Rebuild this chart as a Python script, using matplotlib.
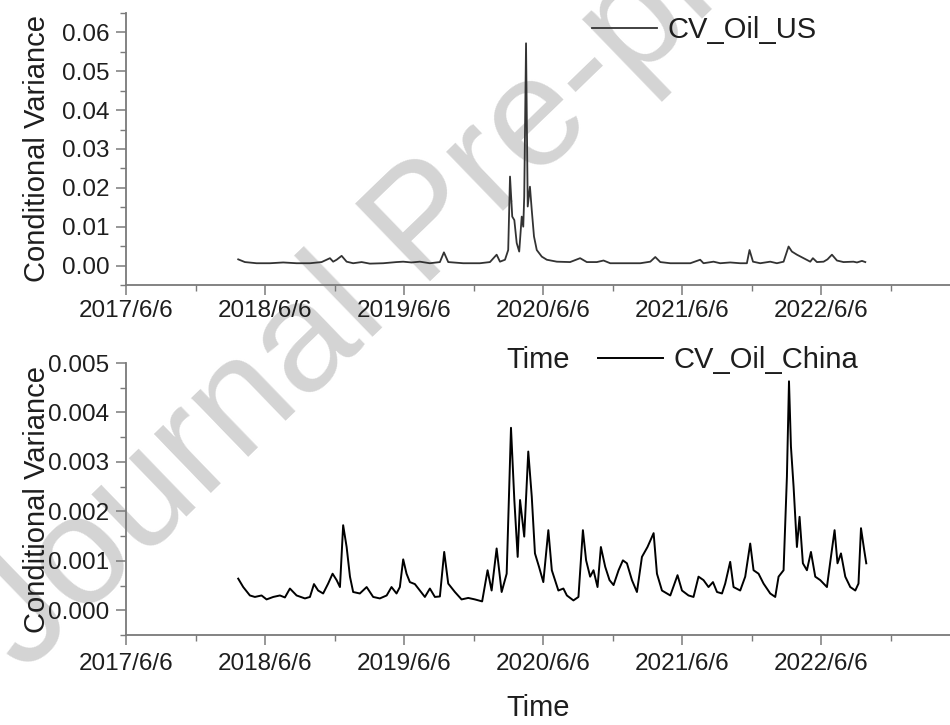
import numpy as np
import pandas as pd
import matplotlib
matplotlib.use("Agg")
import matplotlib.pyplot as plt
import matplotlib.dates as mdates
from matplotlib.ticker import MultipleLocator, FormatStrFormatter, FixedLocator

plt.rcParams['font.family'] = ['Liberation Sans', 'DejaVu Sans']

# ---------------- data (time in decimal years) ----------------
t_us = [2018.235, 2018.283, 2018.367, 2018.463, 2018.559, 2018.655, 2018.751, 2018.835, 2018.895,
        2018.918, 2018.943, 2018.979, 2019.015, 2019.062, 2019.123, 2019.182, 2019.278, 2019.374,
        2019.422, 2019.482, 2019.542, 2019.614, 2019.686, 2019.715, 2019.746, 2019.854, 2019.974,
        2020.046, 2020.094, 2020.118, 2020.154, 2020.177, 2020.190, 2020.206, 2020.221, 2020.238,
        2020.256, 2020.274, 2020.285, 2020.292, 2020.305, 2020.317, 2020.333, 2020.346, 2020.362,
        2020.382, 2020.418, 2020.454, 2020.526, 2020.621, 2020.693, 2020.741, 2020.813, 2020.861,
        2020.909, 2021.005, 2021.125, 2021.197, 2021.233, 2021.269, 2021.341, 2021.413, 2021.485,
        2021.556, 2021.580, 2021.652, 2021.700, 2021.772, 2021.844, 2021.892, 2021.911, 2021.936,
        2021.988, 2022.060, 2022.108, 2022.156, 2022.192, 2022.216, 2022.252, 2022.300, 2022.348,
        2022.367, 2022.396, 2022.444, 2022.472, 2022.504, 2022.540, 2022.587, 2022.659, 2022.684,
        2022.720, 2022.744]
cv_oil_us = [0.0016, 0.0009, 0.0006, 0.0006, 0.0008, 0.0006, 0.0006, 0.0009, 0.0019,
             0.0010, 0.0015, 0.0025, 0.0010, 0.0006, 0.0009, 0.0005, 0.0006, 0.0009,
             0.0010, 0.0008, 0.0010, 0.0006, 0.0009, 0.0034, 0.0009, 0.0006, 0.0006,
             0.0009, 0.0028, 0.0010, 0.0015, 0.0040, 0.0229, 0.0126, 0.0117, 0.0058,
             0.0036, 0.0126, 0.0100, 0.0177, 0.0572, 0.0152, 0.0203, 0.0143, 0.0075,
             0.0040, 0.0023, 0.0015, 0.0010, 0.0009, 0.0019, 0.0009, 0.0009, 0.0013,
             0.0006, 0.0006, 0.0006, 0.0010, 0.0022, 0.0009, 0.0006, 0.0006, 0.0006,
             0.0015, 0.0006, 0.0010, 0.0006, 0.0008, 0.0006, 0.0006, 0.0040, 0.0010,
             0.0006, 0.0010, 0.0006, 0.0010, 0.0049, 0.0036, 0.0028, 0.0019, 0.0010,
             0.0019, 0.0009, 0.0010, 0.0016, 0.0028, 0.0013, 0.0009, 0.0010, 0.0008,
             0.0012, 0.0009]

t_china = [2018.235, 2018.271, 2018.319, 2018.355, 2018.403, 2018.439, 2018.487, 2018.535, 2018.571,
           2018.607, 2018.655, 2018.715, 2018.751, 2018.780, 2018.810, 2018.846, 2018.882, 2018.914,
           2018.943, 2018.967, 2018.990, 2019.015, 2019.039, 2019.062, 2019.110, 2019.159, 2019.206,
           2019.254, 2019.303, 2019.338, 2019.374, 2019.398, 2019.422, 2019.446, 2019.470, 2019.506,
           2019.542, 2019.578, 2019.614, 2019.650, 2019.686, 2019.717, 2019.746, 2019.794, 2019.842,
           2019.890, 2019.938, 2019.990, 2020.029, 2020.058, 2020.094, 2020.130, 2020.166, 2020.197,
           2020.221, 2020.245, 2020.262, 2020.292, 2020.321, 2020.346, 2020.369, 2020.398, 2020.429,
           2020.465, 2020.490, 2020.537, 2020.573, 2020.598, 2020.645, 2020.681, 2020.713, 2020.736,
           2020.765, 2020.789, 2020.818, 2020.842, 2020.873, 2020.904, 2020.933, 2020.969, 2021.000,
           2021.029, 2021.065, 2021.101, 2021.137, 2021.177, 2021.221, 2021.245, 2021.281, 2021.341,
           2021.393, 2021.425, 2021.472, 2021.508, 2021.544, 2021.580, 2021.616, 2021.648, 2021.677,
           2021.713, 2021.736, 2021.772, 2021.796, 2021.844, 2021.880, 2021.916, 2021.940, 2021.976,
           2022.012, 2022.060, 2022.096, 2022.120, 2022.156, 2022.180, 2022.195, 2022.209, 2022.228,
           2022.252, 2022.271, 2022.295, 2022.324, 2022.353, 2022.384, 2022.420, 2022.468, 2022.492,
           2022.523, 2022.544, 2022.569, 2022.600, 2022.636, 2022.672, 2022.695, 2022.713, 2022.736,
           2022.751]
cv_oil_china = [0.00064, 0.00047, 0.00030, 0.00027, 0.00030, 0.00022, 0.00027, 0.00030, 0.00026,
                0.00044, 0.00030, 0.00024, 0.00027, 0.00053, 0.00040, 0.00034, 0.00054, 0.00074,
                0.00061, 0.00047, 0.00172, 0.00128, 0.00068, 0.00037, 0.00034, 0.00047, 0.00027,
                0.00024, 0.00030, 0.00047, 0.00034, 0.00047, 0.00103, 0.00074, 0.00057, 0.00053,
                0.00040, 0.00027, 0.00044, 0.00027, 0.00028, 0.00118, 0.00054, 0.00037, 0.00022,
                0.00025, 0.00022, 0.00018, 0.00081, 0.00040, 0.00125, 0.00037, 0.00074, 0.00369,
                0.00223, 0.00108, 0.00223, 0.00149, 0.00321, 0.00230, 0.00115, 0.00088, 0.00057,
                0.00162, 0.00081, 0.00040, 0.00044, 0.00030, 0.00020, 0.00027, 0.00162, 0.00101,
                0.00068, 0.00081, 0.00047, 0.00128, 0.00088, 0.00061, 0.00051, 0.00081, 0.00101,
                0.00095, 0.00061, 0.00037, 0.00108, 0.00128, 0.00156, 0.00074, 0.00040, 0.00030,
                0.00071, 0.00040, 0.00030, 0.00027, 0.00068, 0.00061, 0.00047, 0.00057, 0.00037,
                0.00034, 0.00054, 0.00098, 0.00047, 0.00040, 0.00068, 0.00135, 0.00081, 0.00074,
                0.00054, 0.00034, 0.00027, 0.00068, 0.00081, 0.00270, 0.00463, 0.00331, 0.00250,
                0.00128, 0.00189, 0.00095, 0.00081, 0.00118, 0.00068, 0.00061, 0.00047, 0.00098,
                0.00162, 0.00095, 0.00115, 0.00068, 0.00047, 0.00040, 0.00054, 0.00166, 0.00122,
                0.00095]

x_tick_dates = ['2017-06-06', '2018-06-06', '2019-06-06', '2020-06-06', '2021-06-06', '2022-06-06']
x_tick_labels = ['2017/6/6', '2018/6/6', '2019/6/6', '2020/6/6', '2021/6/6', '2022/6/6']
x_minor_dates = ['2017-12-06', '2018-12-06', '2019-12-06', '2020-12-06', '2021-12-06', '2022-12-06']
series_labels = ['CV_Oil_US', 'CV_Oil_China']
y_label = 'Conditional Variance'
x_label = 'Time'
watermark = 'Journal Pre-proof'


def decyear_to_datetime(vals):
    out = []
    for v in vals:
        y = int(np.floor(v))
        start = pd.Timestamp(year=y, month=1, day=1)
        days = (pd.Timestamp(year=y + 1, month=1, day=1) - start).days
        out.append(start + pd.Timedelta(days=(v - y) * days))
    return pd.to_datetime(out)


fig = plt.figure(figsize=(9.5, 7.25), dpi=100, facecolor='white')

# watermark (behind the transparent axes)
fig.text(0.4505, 0.6855, watermark, rotation=44, fontsize=112, color='#d4d4d4',
         ha='center', va='center', zorder=-1, rotation_mode='anchor')

ax1 = fig.add_axes([0.1326, 0.6069, 0.8674, 0.3752])
ax2 = fig.add_axes([0.1326, 0.1241, 0.8674, 0.3752])

xmin = pd.Timestamp('2017-06-06')
xmax = pd.Timestamp('2023-05-10')

spine_col = '#7a7a7a'
text_col = '#1e1e1e'

configs = [
    (ax1, t_us, cv_oil_us, '#333333', 1.3, (-0.005, 0.065), 0.01, 0.005, '%.2f', series_labels[0],
     (0.623, 0.9586), -0.276, 4),
    (ax2, t_china, cv_oil_china, '#000000', 1.4, (-0.0005, 0.005), 0.001, 0.0005, '%.3f', series_labels[1],
     (0.629, 0.5034), -0.268, 6),
]

for ax, t, v, col, lw, ylim, maj, mnr, fmt, lab, legpos, xlab_y, xpad in configs:
    ax.set_facecolor('none')
    ax.plot(decyear_to_datetime(t), v, color=col, lw=lw, label=lab)
    ax.set_xlim(xmin, xmax)
    ax.set_ylim(*ylim)
    for s in ['top', 'right']:
        ax.spines[s].set_visible(False)
    for s in ['left', 'bottom']:
        ax.spines[s].set_color(spine_col)
        ax.spines[s].set_linewidth(1.3)
    ax.yaxis.set_major_locator(MultipleLocator(maj))
    ax.yaxis.set_minor_locator(MultipleLocator(mnr))
    ax.yaxis.set_major_formatter(FormatStrFormatter(fmt))
    ax.xaxis.set_major_locator(FixedLocator(mdates.date2num(pd.to_datetime(x_tick_dates))))
    ax.set_xticklabels(x_tick_labels)
    ax.xaxis.set_minor_locator(FixedLocator(mdates.date2num(pd.to_datetime(x_minor_dates))))
    ax.tick_params(which='major', direction='out', length=7, width=1.1, color=spine_col,
                   labelsize=17.5, labelcolor=text_col)
    ax.tick_params(axis='y', which='major', pad=5)
    ax.tick_params(axis='x', which='major', pad=xpad)
    ax.tick_params(which='minor', direction='out', length=4, width=1.0, color=spine_col)
    ax.set_ylabel(y_label, fontsize=21, color=text_col, va='center')
    ax.yaxis.set_label_coords(-0.108, 0.5)
    ax.set_xlabel(x_label, fontsize=21, color=text_col, va='center')
    ax.xaxis.set_label_coords(0.5, xlab_y)
    ax.legend(loc='center left', bbox_to_anchor=legpos, bbox_transform=fig.transFigure,
              frameon=False, fontsize=21, handlelength=2.25, handletextpad=0.35,
              borderpad=0, borderaxespad=0, labelcolor=text_col)

fig.savefig('out.png', dpi=100, facecolor='white')
